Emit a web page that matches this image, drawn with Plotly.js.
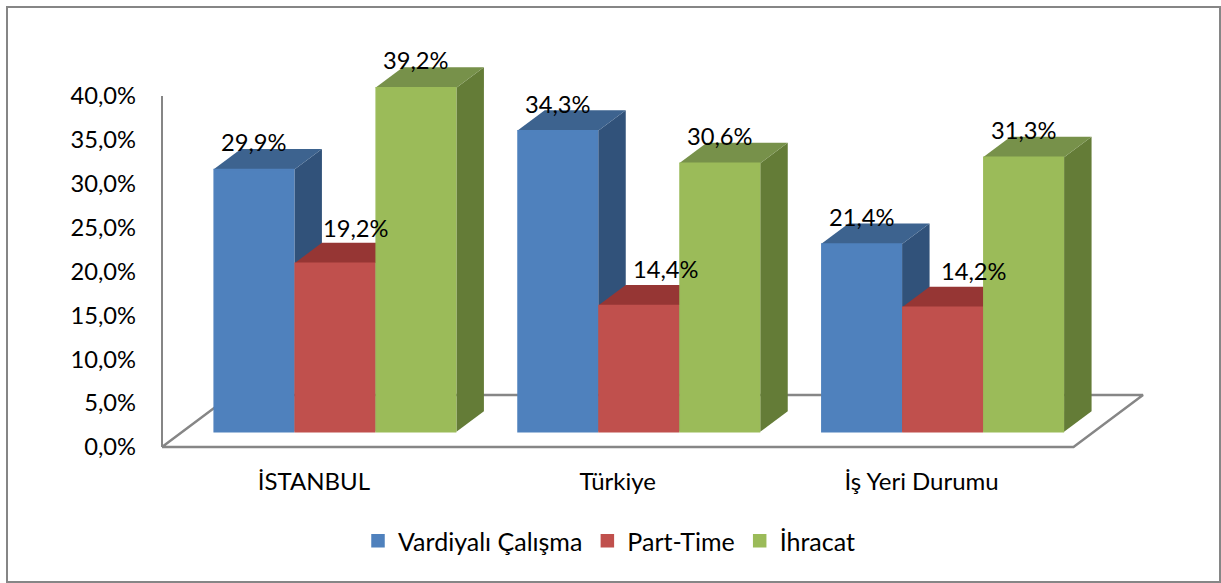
<!DOCTYPE html>
<html>
<head>
<meta charset="utf-8">
<script src="https://cdn.plot.ly/plotly-3.0.1.min.js"></script>
<style>html,body{margin:0;padding:0;background:#fff}#c{width:1221px;height:583px}</style>
</head>
<body>
<div id="c"></div>
<script>
// ---- data ----
var categories = ["İSTANBUL", "Türkiye", "İş Yeri Durumu"];
var seriesNames = ["Vardiyalı Çalışma", "Part-Time", "İhracat"];
var vardiyali = [29.9, 34.3, 21.4];
var partTime = [19.2, 14.4, 14.2];
var ihracat = [39.2, 30.6, 31.3];
var yTickVals = [0, 5, 10, 15, 20, 25, 30, 35, 40];
var yTickText = ["0,0%", "5,0%", "10,0%", "15,0%", "20,0%", "25,0%", "30,0%", "35,0%", "40,0%"];

// ---- styles ----
var frontColors = ["#4F81BD", "#C0504D", "#9BBB59"];
var sideColors = ["#31527A", "#7F3331", "#647C37"];
var topColors = ["#3D638F", "#963634", "#77914A"];
var gray = "#868686";
var FONT = "Lato, 'Open Sans', sans-serif";
var W = 1221, H = 583;
// pixel position of the value axis and of the front edge of the floor
var AL = 162, AR = 1073.5, AT = 96, AB = 447;
// plot area, larger than the axis so that the 3D faces are not clipped
var PL = 150, PR = 1155, PT = 50, PB = 452;
var pxX = (AR - AL) / 3, pxY = (AB - AT) / 40;
var barW = 79.5 / pxX, gapW = 81 / pxX, shift = 21 / pxX, base = 15.2 / pxY;
var dx = 27.5 / pxX, dy = 20.5 / pxY;
var floorDx = 69.5 / pxX, floorDy = 52 / pxY;
var labelDx = [[0, 0, 0], [21, 27, 31], [0, 0, 0]];
var labelDy = [[27, 27, 27], [35, 36, 36], [28, 27, 27]];
var xRange = [-0.5 - (AL - PL) / pxX, 2.5 + (PR - AR) / pxX];
var yRange = [-(PB - AB) / pxY, (AB - PT) / pxY];

var series = [vardiyali, partTime, ihracat];
var traces = [];

// floor outline
traces.push({
  type: "scatter", mode: "lines", x: [-0.5, 2.5, 2.5 + floorDx, -0.5 + floorDx, -0.5],
  y: [0, 0, floorDy, floorDy, 0], line: {color: gray, width: 2.4}, showlegend: false,
  hoverinfo: "skip", xaxis: "x", yaxis: "y"
});
// value axis line
traces.push({
  type: "scatter", mode: "lines", x: [-0.5, -0.5],
  y: [yTickVals[0], yTickVals[yTickVals.length - 1]], line: {color: gray, width: 2}, showlegend: false,
  hoverinfo: "skip", xaxis: "x", yaxis: "y"
});

function leftOf(c, s) { return c + shift + (s - 1.5) * gapW; }

// side and top faces, behind the fronts
categories.forEach(function (_, c) {
  series.forEach(function (vals, s) {
    var l = leftOf(c, s), r = l + gapW, top = base + vals[c];
    traces.push({
      type: "scatter", mode: "lines", fill: "toself", fillcolor: sideColors[s],
      x: [r, r + dx, r + dx, r, r], y: [base, base + dy, top + dy, top, base],
      line: {width: 0, color: sideColors[s]}, showlegend: false, hoverinfo: "skip",
      xaxis: "x", yaxis: "y"
    });
    traces.push({
      type: "scatter", mode: "lines", fill: "toself", fillcolor: topColors[s],
      x: [l, r, r + dx, l + dx, l], y: [top, top, top + dy, top + dy, top],
      line: {width: 0, color: topColors[s]}, showlegend: false, hoverinfo: "skip",
      xaxis: "x", yaxis: "y"
    });
  });
});

// front faces
series.forEach(function (vals, s) {
  traces.push({
    type: "bar", name: seriesNames[s],
    x: categories.map(function (_, c) { return leftOf(c, s) + gapW / 2; }),
    y: vals, base: categories.map(function () { return base; }), width: barW,
    marker: {color: frontColors[s], line: {width: 1.5, color: frontColors[s]}},
    hoverinfo: "skip", xaxis: "x2", yaxis: "y2"
  });
});

// data labels
var annotations = [];
series.forEach(function (vals, s) {
  vals.forEach(function (v, c) {
    annotations.push({
      x: leftOf(c, s) + gapW / 2, y: base + v, xref: "x2", yref: "y2",
      text: v.toFixed(1).replace(".", ",") + "%", showarrow: false,
      xanchor: "center", yanchor: "middle", xshift: labelDx[s][c], yshift: labelDy[s][c],
      font: {family: FONT, size: 23.7, color: "#000"}
    });
  });
});

var layout = {
  width: W, height: H, autosize: false, showlegend: true,
  margin: {l: PL, r: W - PR, t: PT, b: H - PB, pad: 0},
  paper_bgcolor: "#fff", plot_bgcolor: "rgba(0,0,0,0)",
  barmode: "overlay",
  font: {family: FONT, size: 23.7, color: "#000"},
  xaxis: {
    range: xRange, tickvals: [0, 1, 2], ticktext: categories, showgrid: false, zeroline: false,
    showline: false, ticks: "", ticklabelstandoff: 13, fixedrange: true,
    tickfont: {family: FONT, size: 24}
  },
  yaxis: {
    range: yRange, tickvals: yTickVals, ticktext: yTickText, showgrid: false, zeroline: false,
    showline: false, ticks: "", ticklabelstandoff: 13, fixedrange: true
  },
  xaxis2: {range: xRange, overlaying: "x", visible: false, anchor: "y2", fixedrange: true},
  yaxis2: {range: yRange, overlaying: "y", visible: false, anchor: "x2", fixedrange: true},
  legend: {
    orientation: "h", xref: "container", yref: "container", x: 358 / W, y: 1 - 541 / H,
    xanchor: "left", yanchor: "middle", bgcolor: "rgba(0,0,0,0)",
    font: {family: FONT, size: 25, color: "#000"}, itemclick: false, itemdoubleclick: false
  },
  annotations: annotations,
  shapes: [{
    type: "rect", xref: "paper", yref: "paper",
    x0: (7 - PL) / (PR - PL), x1: (1220 - PL) / (PR - PL),
    y0: (PB - 582) / (PB - PT), y1: (PB - 7) / (PB - PT),
    line: {color: gray, width: 2}, fillcolor: "rgba(0,0,0,0)", layer: "below"
  }]
};

Plotly.newPlot("c", traces, layout, {displayModeBar: false, staticPlot: true});
</script>
</body>
</html>
